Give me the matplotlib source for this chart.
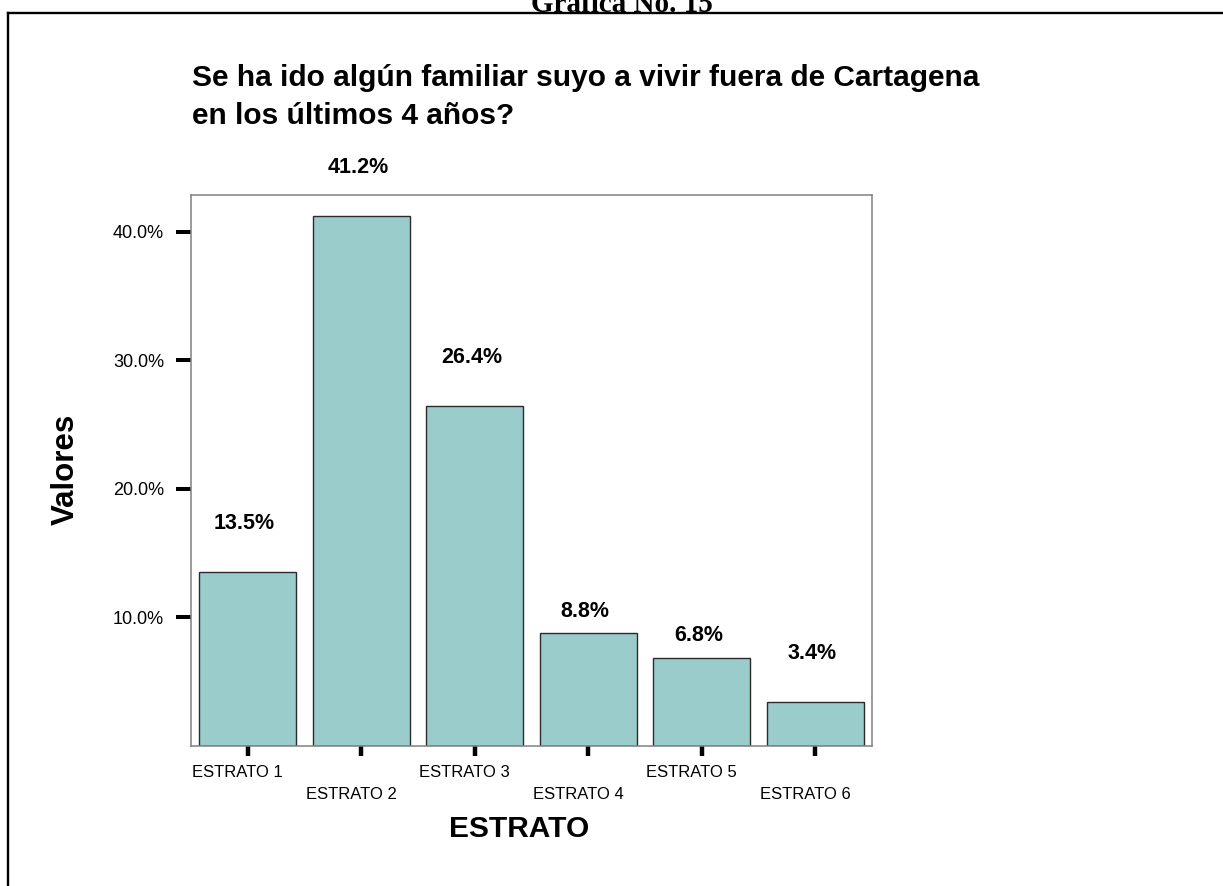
import matplotlib.pyplot as plt
from matplotlib.lines import Line2D
from matplotlib.transforms import ScaledTranslation

# Share of respondents by socio-economic stratum
estratos = ['ESTRATO 1', 'ESTRATO 2', 'ESTRATO 3', 'ESTRATO 4', 'ESTRATO 5', 'ESTRATO 6']
valores = [13.5, 41.2, 26.4, 8.8, 6.8, 3.4]
etiquetas = ['13.5%', '41.2%', '26.4%', '8.8%', '6.8%', '3.4%']
# how far above each bar its label sits (percentage points)
desplazamiento = [3.4, 3.4, 3.4, 1.25, 1.35, 3.35]

plt.rcParams['font.family'] = ['Liberation Sans', 'DejaVu Sans']

fig = plt.figure(figsize=(12.23, 8.86), dpi=100)
W, H = 1223, 886

# page frame (top and left edges) and the caption cut at the top
fig.add_artist(Line2D([7.5 / W, 1], [1 - 12.5 / H, 1 - 12.5 / H], color='black', lw=1.7,
                      transform=fig.transFigure))
fig.add_artist(Line2D([7.5 / W, 7.5 / W], [0, 1 - 12.5 / H], color='black', lw=1.7,
                      transform=fig.transFigure))
fig.text(622 / W, 1 - 12 / H, 'Gráfica No. 15', family='Liberation Serif', weight='bold',
         fontsize=21, ha='center', va='baseline')

ax = fig.add_axes([191 / W, 1 - 745.7 / H, (872 - 191) / W, (745.7 - 195) / H])

x = range(len(estratos))
ax.bar(x, valores, width=0.855, color='#9ACCCC', edgecolor='#2b2b2b', linewidth=1.0)

for i, v in enumerate(valores):
    ax.text(i - 0.03, v + desplazamiento[i], etiquetas[i], ha='center', va='baseline',
            fontsize=15.5, weight='bold', clip_on=False)

ax.set_xlim(-0.5, 5.5)
ax.set_ylim(0, 42.86)

ax.set_yticks([10, 20, 30, 40])
ax.set_yticklabels(['10.0%', '20.0%', '30.0%', '40.0%'], fontsize=13)
ax.set_xticks(list(x))
ax.set_xticklabels(estratos, fontsize=12)

ax.tick_params(axis='y', length=10.8, width=2.9, pad=8.6, color='black')
ax.tick_params(axis='x', length=7.2, width=3.2, pad=6.5, color='black')

# staggered category labels
for i, lbl in enumerate(ax.get_xticklabels()):
    dy = -0.22 if i % 2 == 1 else 0.0
    lbl.set_transform(lbl.get_transform() + ScaledTranslation(-0.10, dy, fig.dpi_scale_trans))

for s in ax.spines.values():
    s.set_color('#808080')
    s.set_linewidth(1.1)

fig.text(192 / W, 1 - 86 / H, 'Se ha ido algún familiar suyo a vivir fuera de Cartagena',
         fontsize=21.5, weight='bold', ha='left', va='baseline')
fig.text(192 / W, 1 - 123.5 / H, 'en los últimos 4 años?',
         fontsize=21.5, weight='bold', ha='left', va='baseline')

fig.text(66 / W, 1 - 469 / H, 'Valores', rotation=90, fontsize=22.5, weight='bold',
         ha='center', va='center')
fig.text(519 / W, 1 - 837 / H, 'ESTRATO', fontsize=21.5, weight='bold',
         ha='center', va='baseline')

fig.savefig('out.png', dpi=100)
